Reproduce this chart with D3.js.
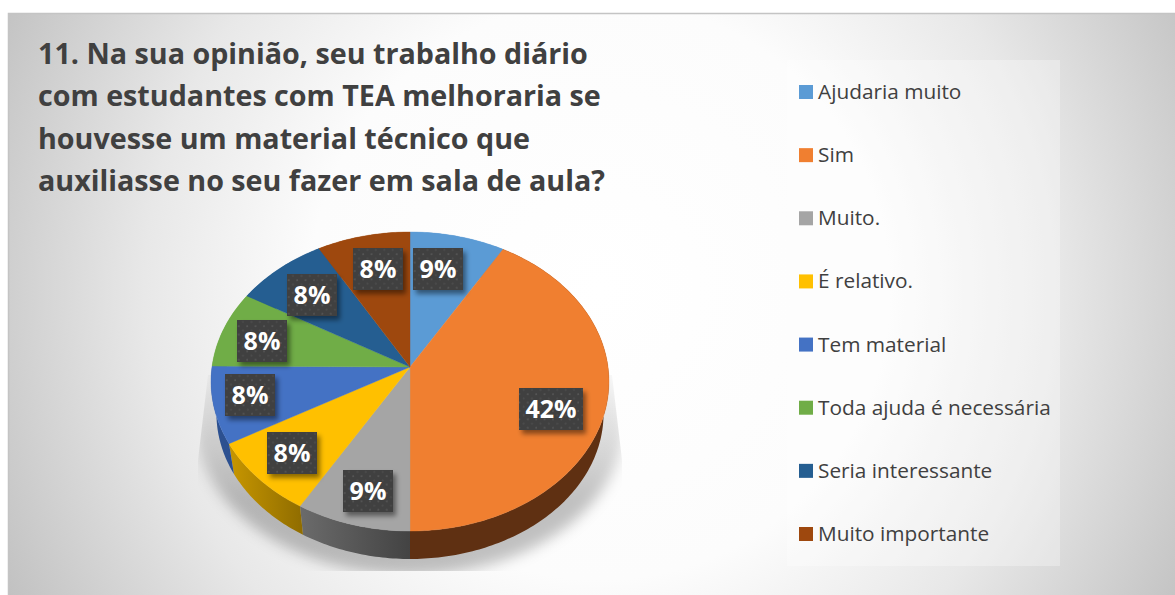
<!DOCTYPE html>
<html><head><meta charset="utf-8">
<script src="https://cdn.jsdelivr.net/npm/d3@7/dist/d3.min.js"></script>
<style>html,body{margin:0;padding:0;background:#fff;overflow:hidden}svg{display:block}</style>
</head><body><svg id="c" width="1175" height="595"></svg>
<script>
const categories = ["Ajudaria muito","Sim","Muito.","É relativo.","Tem material","Toda ajuda é necessária","Seria interessante","Muito importante"];
const values = [8.5,41.5,8.5,8.3,8.3,8.3,8.3,8.3];
const percentLabels = ["9%","42%","9%","8%","8%","8%","8%","8%"];
const titleLines = ["11. Na sua opinião, seu trabalho diário","com estudantes com TEA melhoraria se","houvesse um material técnico que","auxiliasse no seu fazer em sala de aula?"];
const colors = ["#5B9BD5","#F07F30","#A5A5A5","#FFC000","#4472C4","#70AD47","#255E91","#9E480E"];
const wallLeft = ["#5B9BD5","#5f3012","#6a6a6a","#c49400","#2c5090","#70AD47","#255E91","#9E480E"];
const wallRight = ["#5B9BD5","#5f3012","#434343","#8f6c00","#2c5090","#70AD47","#255E91","#9E480E"];
const labelOffsets = [[28,-98],[141,42],[-42,124],[-118,86],[-160,28],[-148,-26],[-98,-72],[-32,-98]];

const svg = d3.select("#c");
const defs = svg.append("defs");
const W=1175,H=595,cx=410,cy=367,R=198,S=148.1,k=-0.097,wallScale=0.973,wallCy=399.4;

function project(a,level){
  const x=Math.sin(a),y=-Math.cos(a),d=1+k*y;
  const s=level?wallScale:1,c=level?wallCy:cy;
  return [cx+s*R*x/d,c+s*S*y/d];
}
const line=d3.line();
function arcPoints(a0,a1,level){
  const n=Math.max(2,Math.ceil((a1-a0)*60));
  return d3.range(n+1).map(i=>project(a0+(a1-a0)*i/n,level));
}

// background
const bg=defs.append("radialGradient").attr("id","bg").attr("gradientUnits","userSpaceOnUse")
  .attr("cx",600).attr("cy",290).attr("r",690);
[[0,"#ffffff"],[0.42,"#fcfcfc"],[0.66,"#e8e8e8"],[1,"#bdbdbd"]].forEach(s=>bg.append("stop").attr("offset",s[0]).attr("stop-color",s[1]));
svg.append("rect").attr("x",8.5).attr("y",13.5).attr("width",W).attr("height",H).attr("fill","url(#bg)").attr("stroke","#c4c4c4").attr("stroke-width",1.5);

// title
svg.append("g").selectAll("text").data(titleLines).join("text")
  .attr("x",38).attr("y",(d,i)=>64+i*42.3)
  .attr("font-family","'Open Sans'").attr("font-weight",700).attr("font-size",28.7).attr("fill","#404040").text(d=>d);

// legend
svg.append("rect").attr("x",787).attr("y",60).attr("width",273).attr("height",506).attr("fill","#fff").attr("fill-opacity",0.3);
const ly=d3.scalePoint().domain(categories).range([92,534]);
const lg=svg.append("g").selectAll("g").data(categories).join("g").attr("transform",d=>`translate(799,${ly(d)})`);
lg.append("rect").attr("y",-7).attr("width",14).attr("height",14).attr("fill",(d,i)=>colors[i]);
lg.append("text").attr("x",19).attr("y",7).attr("font-family","'Open Sans'").attr("font-size",20.8).attr("fill","#404040").text(d=>d);

// shadow under pie
defs.append("filter").attr("id","blur").attr("x","-20%").attr("y","-20%").attr("width","140%").attr("height","140%")
  .append("feGaussianBlur").attr("stdDeviation",7);
const fade=defs.append("linearGradient").attr("id","fade").attr("gradientUnits","userSpaceOnUse")
  .attr("x1",0).attr("x2",0).attr("y1",375).attr("y2",500);
[[0,0.04],[0.7,0.17],[1,0.24]].forEach(s=>fade.append("stop").attr("offset",s[0]).attr("stop-color","#000").attr("stop-opacity",s[1]));
defs.append("clipPath").attr("id","shClip").append("path")
  .attr("d",line([[cx-202,375],[cx-212,460],[cx-212,571],[cx+212,571],[cx+212,460],[cx+202,375]])+"Z");
svg.append("g").attr("clip-path","url(#shClip)").append("ellipse")
  .attr("cx",cx).attr("cy",423).attr("rx",214).attr("ry",152)
  .attr("fill","url(#fade)").attr("filter","url(#blur)");

// pie
const pie=d3.pie().value(d=>d).sort(null);
const slices=pie(values);

// walls
slices.forEach((s,i)=>{
  const g=defs.append("linearGradient").attr("id","w"+i).attr("gradientUnits","userSpaceOnUse")
    .attr("y1",0).attr("y2",0)
    .attr("x1",Math.min(project(s.startAngle,1)[0],project(s.endAngle,1)[0]))
    .attr("x2",Math.max(project(s.startAngle,1)[0],project(s.endAngle,1)[0]));
  g.append("stop").attr("offset",0).attr("stop-color",wallLeft[i]);
  g.append("stop").attr("offset",1).attr("stop-color",wallRight[i]);
});
svg.append("g").selectAll("path").data(slices).join("path")
  .attr("d",s=>line(arcPoints(s.startAngle,s.endAngle,0).concat(arcPoints(s.startAngle,s.endAngle,1).reverse()))+"Z")
  .attr("fill",(s,i)=>`url(#w${i})`);

// top faces
svg.append("g").selectAll("path").data(slices).join("path")
  .attr("d",(s,i)=>line([[cx,cy]].concat(arcPoints(s.startAngle,s.endAngle,0)))+"Z")
  .attr("fill",(s,i)=>colors[i]).attr("stroke",(s,i)=>colors[i]).attr("stroke-width",0.4);

// data labels
const pat=defs.append("pattern").attr("id","dots").attr("patternUnits","userSpaceOnUse").attr("width",8.4).attr("height",8.4);
pat.append("rect").attr("width",8.4).attr("height",8.4).attr("fill","#404040");
pat.append("circle").attr("cx",2).attr("cy",2).attr("r",1).attr("fill","#545454");
pat.append("circle").attr("cx",6.2).attr("cy",6.2).attr("r",1).attr("fill","#4c4c4c");
const ds=defs.append("filter").attr("id","ds").attr("x","-30%").attr("y","-30%").attr("width","170%").attr("height","170%");
ds.append("feDropShadow").attr("dx",3).attr("dy",4).attr("stdDeviation",2.5).attr("flood-color","#000").attr("flood-opacity",0.45);
const lab=svg.append("g").selectAll("g").data(percentLabels).join("g")
  .attr("transform",(d,i)=>`translate(${cx+labelOffsets[i][0]},${cy+labelOffsets[i][1]})`);
lab.append("rect").attr("x",d=>d.length>2?-32:-25).attr("y",-21).attr("width",d=>d.length>2?64:50).attr("height",42)
  .attr("fill","url(#dots)").attr("filter","url(#ds)");
lab.append("text").attr("text-anchor","middle").attr("y",9).attr("font-family","'Open Sans'").attr("font-weight",700)
  .attr("font-size",25).attr("fill","#fff").text(d=>d);
</script></body></html>
